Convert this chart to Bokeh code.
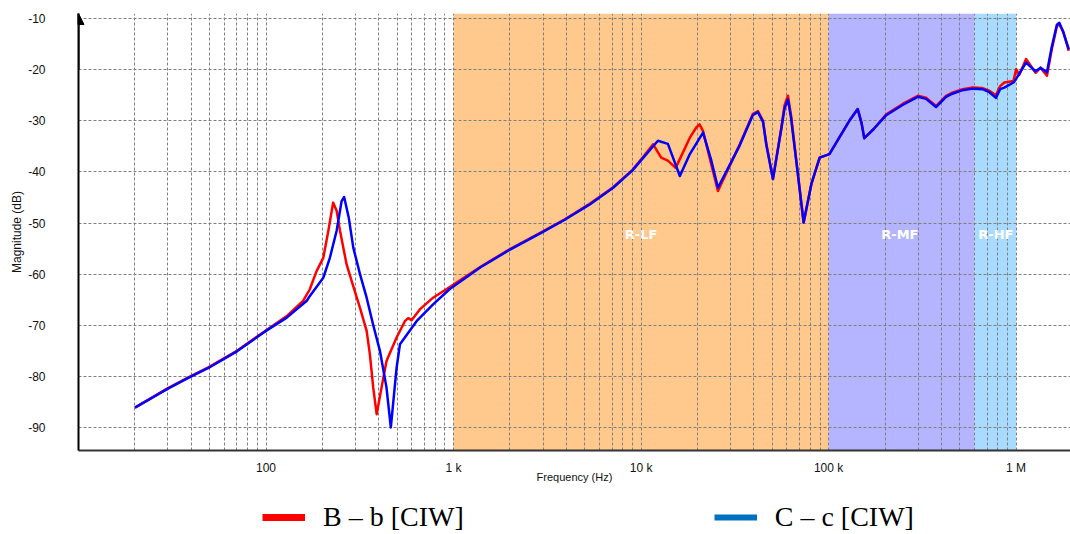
from bokeh.plotting import figure
from bokeh.layouts import column
from bokeh.models import FixedTicker, BoxAnnotation, Legend, LegendItem, Arrow, NormalHead, Range1d
from bokeh.core.properties import value
from bokeh.embed import file_html
from bokeh.resources import INLINE

# ---- data ----
freq_b = [20, 30, 39, 49, 70, 99, 129, 158, 171, 186,
          202, 215, 228, 238, 248, 269, 286, 317, 344, 358,
          373, 389, 413, 439, 497, 550, 573, 597, 661, 778,
          955, 1400, 2000, 2900, 3900, 5300, 7100, 9000, 10300, 11600,
          12800, 13900, 15300, 18200, 19700, 20500, 21400, 23200, 25700, 33600,
          39400, 42000, 44700, 46600, 50500, 56000, 58200, 60700, 63100, 67300,
          73600, 80900, 89600, 101000, 114000, 129000,
          143000, 150000, 155000, 174000, 203000, 248000, 299000, 331000, 374000, 423000,
          457000, 518000, 588000, 662000, 720000, 780000, 822000, 865000, 968000, 1000000,
          1040000, 1130000, 1270000, 1350000, 1460000, 1550000, 1650000, 1700000, 1780000, 1910000]
mag_b = [-86.1, -82.3, -80.1, -78.3, -75.0, -71.1, -68.2, -65.2, -63.0, -59.4,
         -56.8, -51.5, -46.0, -47.6, -51.5, -58.1, -61.3, -66.6, -71.1, -75.7,
         -82.2, -87.4, -82.2, -77.0, -72.4, -69.2, -68.6, -69.0, -66.9, -64.6,
         -62.5, -58.5, -55.1, -51.9, -49.3, -46.3, -43.0, -39.6, -37.0, -34.6,
         -37.2, -37.8, -39.2, -33.3, -31.3, -30.7, -32.0, -37.2, -43.7, -34.6,
         -28.7, -28.1, -30.0, -34.6, -41.4, -31.3, -27.0, -25.1, -29.0, -37.8,
         -49.9, -42.4, -37.2, -36.5, -33.3, -30.0,
         -27.7, -30.5, -33.4, -31.6, -28.7, -26.7, -25.1, -25.5, -27.1, -25.1,
         -24.5, -23.8, -23.5, -23.6, -24.1, -25.0, -23.2, -22.5, -22.2, -19.9,
         -21.0, -17.9, -20.6, -19.6, -21.2, -16.0, -11.5, -11.1, -12.5, -16.3]

freq_c = [20, 30, 39, 49, 70, 99, 129, 165, 171, 202,
          219, 238, 253, 261, 276, 292, 317, 344, 372, 405,
          439, 463, 497, 518, 635, 778, 955, 1400, 2000, 2900,
          3900, 5300, 7100, 9000, 10500, 12300, 13900, 16100, 18200, 21400,
          23700, 25700, 33600, 39400, 42000, 44700, 46600, 50500, 56000, 58200,
          60700, 63100, 67300, 73600,
          80900, 89600, 101000, 114000, 129000, 143000, 150000, 155000, 174000, 203000,
          248000, 299000, 331000, 374000, 423000, 457000, 518000, 588000, 662000, 720000,
          780000, 822000, 865000, 968000, 1000000, 1130000, 1200000, 1270000, 1350000, 1460000,
          1550000, 1650000, 1700000, 1780000, 1910000]
mag_c = [-86.1, -82.4, -80.2, -78.4, -75.1, -71.2, -68.5, -65.2, -64.3, -60.7,
         -56.8, -51.5, -45.7, -44.9, -48.9, -54.8, -60.0, -64.6, -69.8, -75.0,
         -82.2, -90.0, -78.3, -73.7, -69.2, -65.9, -62.9, -58.6, -55.2, -52.0,
         -49.4, -46.4, -43.1, -39.7, -36.8, -33.9, -34.5, -40.8, -36.5, -32.3,
         -37.8, -43.1, -34.8, -28.9, -28.3, -30.2, -34.8, -41.4, -31.5, -27.6,
         -25.8, -29.5, -38.0, -49.9,
         -42.4, -37.2, -36.5, -33.3, -30.0, -27.7, -30.5, -33.4, -31.6, -28.9,
         -26.9, -25.3, -25.7, -27.3, -25.3, -24.7, -24.0, -23.7, -23.8, -24.4,
         -25.5, -23.8, -23.5, -22.5, -21.8, -18.6, -19.5, -20.3, -19.6, -20.5,
         -15.5, -11.2, -10.8, -12.5, -16.0]

series_names = ["B \u2013 b [CIW]", "C \u2013 c [CIW]"]

band_edges = [1e3, 1e5, 6e5, 1e6]
band_colors = ["#FFC98E", "#B4B4FF", "#A8DBFF"]
band_labels = ["R-LF", "R-MF", "R-HF"]
band_label_x = [1.0e4, 2.4e5, 7.8e5]
band_label_y = [-52.3, -52.3, -52.3]

x_tick_vals = [100, 1000, 10000, 100000, 1000000]
x_tick_labels = ["100", "1 k", "10 k", "100 k", "1 M"]
y_tick_vals = [-90, -80, -70, -60, -50, -40, -30, -20, -10]
y_tick_labels = ["-90", "-80", "-70", "-60", "-50", "-40", "-30", "-20", "-10"]

x_minor = [m * d for d in [10, 100, 1000, 10000, 100000, 1000000] for m in range(2, 10)]

# ---- main figure ----
p = figure(width=1070, height=486, x_axis_type="log",
           x_range=(10, 1.95e6), y_range=(-94.5, -9.0),
           output_backend="svg", toolbar_location=None,
           min_border_left=78, min_border_right=0, min_border_top=13, min_border_bottom=36)
p.outline_line_color = None
p.background_fill_color = "white"

for i, c in enumerate(band_colors):
    p.add_layout(BoxAnnotation(left=band_edges[i], right=band_edges[i + 1],
                               fill_color=c, fill_alpha=1.0, line_color=None, level="image"))

grid_col = "#7f7f7f"
p.xgrid.grid_line_color = grid_col
p.xgrid.grid_line_dash = "3 2"
p.xgrid.minor_grid_line_color = grid_col
p.xgrid.minor_grid_line_dash = "3 2"
p.ygrid.grid_line_color = grid_col
p.ygrid.grid_line_dash = "3 2"

p.xaxis.ticker = FixedTicker(ticks=x_tick_vals, minor_ticks=x_minor)
p.xaxis.major_label_overrides = {v: l for v, l in zip(x_tick_vals, x_tick_labels)}
p.yaxis.ticker = FixedTicker(ticks=y_tick_vals)
p.yaxis.major_label_overrides = {v: l for v, l in zip(y_tick_vals, y_tick_labels)}

for ax in (p.xaxis[0], p.yaxis[0]):
    ax.major_tick_line_color = None
    ax.minor_tick_line_color = None
    ax.major_tick_out = 0
    ax.major_tick_in = 0
    ax.minor_tick_out = 0
    ax.major_label_text_font = "Liberation Sans"
    ax.major_label_text_font_size = "12px"
    ax.major_label_text_color = "#111111"
    ax.axis_label_text_font = "Liberation Sans"
    ax.axis_label_text_font_style = "normal"
    ax.axis_label_text_color = "#111111"
    ax.axis_line_width = 2

p.xaxis.axis_line_color = "#333333"
p.yaxis.axis_line_color = "black"
p.xaxis.major_label_standoff = 10
p.xaxis.axis_label = "Frequency (Hz)"
p.xaxis.axis_label_text_font_size = "11px"
p.xaxis.axis_label_standoff = -7
p.yaxis.major_label_standoff = 33
p.yaxis.axis_label = "Magnitude (dB)"
p.yaxis.axis_label_text_font_size = "12px"
p.yaxis.axis_label_standoff = 1

p.add_layout(Arrow(end=NormalHead(size=11, fill_color="black", line_color="black"),
                   x_start=10, y_start=-20, x_end=10, y_end=-9.0,
                   line_color="black", line_width=2))

p.text(x=band_label_x, y=band_label_y, text=band_labels, text_color="white",
       text_font=value("DejaVu Sans"), text_font_style="bold", text_font_size="13px",
       text_align="center", text_baseline="middle")

p.line(freq_b, mag_b, line_color="#FF0000", line_width=2.5, line_join="round")
p.line(freq_c, mag_c, line_color="#0000FF", line_width=2.5, line_join="round")

# ---- legend strip (legend proxies sit outside its visible range) ----
lg = figure(width=1070, height=48, x_range=Range1d(0, 1), y_range=Range1d(0, 1),
            output_backend="svg", toolbar_location=None,
            x_axis_location=None, y_axis_location=None,
            min_border_left=0, min_border_right=0, min_border_top=0, min_border_bottom=0)
lg.outline_line_color = None
lg.xgrid.visible = False
lg.ygrid.visible = False

leg_b = lg.line(x=[5, 6], y=[5, 5], line_color="#FF0000", line_width=7)
leg_c = lg.line(x=[5, 6], y=[5, 5], line_color="#0070C0", line_width=6)

legend = Legend(items=[LegendItem(label=series_names[0], renderers=[leg_b]),
                       LegendItem(label=series_names[1], renderers=[leg_c])],
                orientation="horizontal", location=(184, 1),
                label_text_font="Liberation Serif", label_text_font_size="28px",
                label_text_color="black", glyph_width=43, glyph_height=20,
                label_standoff=18, spacing=250, padding=0, margin=0,
                border_line_color=None, background_fill_alpha=0)
lg.add_layout(legend, "center")

open("out.html", "w").write(file_html(column(p, lg, spacing=0), INLINE))
